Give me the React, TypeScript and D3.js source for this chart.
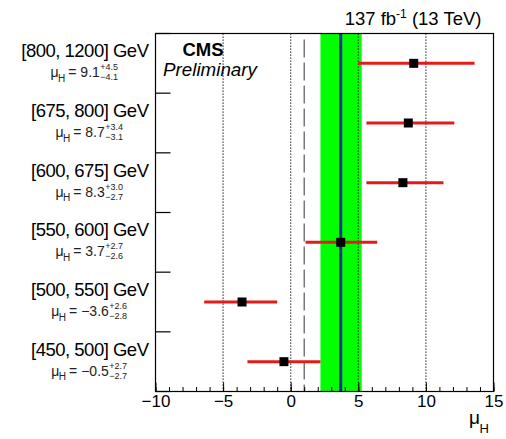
import React, { useEffect, useRef } from "react";
import * as d3 from "d3";

const categories = ["[800, 1200] GeV", "[675, 800] GeV", "[600, 675] GeV", "[550, 600] GeV", "[500, 550] GeV", "[450, 500] GeV"];
const muValues = [9.1, 8.7, 8.3, 3.7, -3.6, -0.5];
const errUp = [4.5, 3.4, 3.0, 2.7, 2.6, 2.7];
const errDown = [4.1, 3.1, 2.7, 2.6, 2.8, 2.7];
const combinedMu = 3.7;
const combinedUp = 1.55;
const combinedDown = 1.5;
const refLine = 1;
const gridLines = [-5, 0, 5, 10];
const majorTicks = [-10, -5, 0, 5, 10, 15];
const minorTicks = d3.range(-10, 16, 1);

const W = 506, H = 439;
const L = 155.5, R = 493.5, T = 33.5, B = 391.5;
const FONT = "'Liberation Sans', Arial, Helvetica, sans-serif";

const fmt = (v: number) => (v < 0 ? "\u2212" : "") + Math.abs(v).toFixed(1);

export default function App() {
  const ref = useRef<SVGSVGElement>(null);
  useEffect(() => {
    const svg = d3.select(ref.current!);
    svg.selectAll("*").remove();
    svg.attr("font-family", FONT);
    const x = d3.scaleLinear().domain([-10, 15]).range([L, R]);
    const y = d3.scaleBand<string>().domain(categories).range([T, B]).padding(0);
    const cy = (c: string) => (y(c) as number) + y.bandwidth() / 2;

    // green band
    svg.append("rect")
      .attr("x", x(combinedMu - combinedDown)).attr("y", T)
      .attr("width", x(combinedMu + combinedUp) - x(combinedMu - combinedDown))
      .attr("height", B - T).attr("fill", "#00ff00");
    // blue line
    svg.append("line")
      .attr("x1", x(combinedMu)).attr("x2", x(combinedMu)).attr("y1", T).attr("y2", B)
      .attr("stroke", "#1c2a9c").attr("stroke-width", 3);
    // dotted grid
    svg.append("g").selectAll("line").data(gridLines).join("line")
      .attr("x1", (d) => x(d)).attr("x2", (d) => x(d)).attr("y1", T).attr("y2", B)
      .attr("stroke", "#222").attr("stroke-width", 1.2).attr("stroke-dasharray", "1.2,1.8");
    // dashed reference
    svg.append("line")
      .attr("x1", x(refLine)).attr("x2", x(refLine)).attr("y1", T + 6).attr("y2", B)
      .attr("stroke", "#666").attr("stroke-width", 1.3).attr("stroke-dasharray", "18,5");

    // error bars
    const rows = categories.map((c, i) => ({ c, v: muValues[i], up: errUp[i], dn: errDown[i] }));
    svg.append("g").selectAll("line").data(rows).join("line")
      .attr("x1", (d) => x(d.v - d.dn)).attr("x2", (d) => x(d.v + d.up))
      .attr("y1", (d) => cy(d.c)).attr("y2", (d) => cy(d.c))
      .attr("stroke", "#e31b1b").attr("stroke-width", 3);
    svg.append("g").selectAll("rect").data(rows).join("rect")
      .attr("x", (d) => x(d.v) - 4.5).attr("y", (d) => cy(d.c) - 4.5)
      .attr("width", 9).attr("height", 9).attr("fill", "#000");

    // frame
    svg.append("rect").attr("x", L).attr("y", T).attr("width", R - L).attr("height", B - T)
      .attr("fill", "none").attr("stroke", "#000").attr("stroke-width", 1.2);

    // left ticks
    const bounds = d3.range(categories.length + 1).map((i) => T + i * y.step());
    svg.append("g").selectAll("line").data(bounds).join("line")
      .attr("x1", L).attr("x2", L + 15).attr("y1", (d) => d).attr("y2", (d) => d)
      .attr("stroke", "#000").attr("stroke-width", 1.2);

    // x axis ticks
    const minorAxis = d3.axisBottom(x).tickValues(minorTicks).tickSize(-4.5).tickFormat(() => "");
    const gMin = svg.append("g").attr("transform", `translate(0,${B})`).call(minorAxis);
    gMin.select(".domain").remove();
    gMin.selectAll("line").attr("stroke-width", 1);
    const majorAxis = d3.axisBottom(x).tickValues(majorTicks).tickSize(-9).tickPadding(3.6)
      .tickFormat((d) => fmt(d as number).replace(".0", ""));
    const gMaj = svg.append("g").attr("transform", `translate(0,${B})`).call(majorAxis);
    gMaj.select(".domain").remove();
    gMaj.selectAll("line").attr("stroke-width", 1);
    gMaj.selectAll("text").attr("font-size", 17).attr("font-family", FONT).attr("fill", "#000");

    // axis title
    const at = svg.append("text").attr("x", 469).attr("y", 424).attr("font-size", 19).attr("fill", "#000");
    at.append("tspan").text("\u03bc");
    at.append("tspan").attr("font-size", 13).attr("dy", 9).attr("dx", -0.5).text("H");

    // row labels
    rows.forEach((d) => {
      const c = cy(d.c);
      const lab = svg.append("text").attr("x", 148.5).attr("y", c - 6)
        .attr("text-anchor", "end").attr("font-size", 18.5).attr("letter-spacing", -0.5)
        .attr("fill", "#000").text(d.c);
      const lw = (lab.node() as SVGTextElement).getBBox().width;
      const center = 148.5 - lw / 2;
      const g = svg.append("g");
      const base = c + 14;
      const t1 = g.append("text").attr("x", 0).attr("y", base).attr("font-size", 14).attr("fill", "#222").text("\u03bc");
      const w1 = (t1.node() as SVGTextElement).getComputedTextLength();
      const t2 = g.append("text").attr("x", w1 - 0.5).attr("y", base + 4.5).attr("font-size", 10).attr("fill", "#222").text("H");
      const w2 = (t2.node() as SVGTextElement).getComputedTextLength();
      const x3 = w1 - 0.5 + w2 + 3;
      const t3 = g.append("text").attr("x", x3).attr("y", base).attr("font-size", 14).attr("fill", "#222").text("= " + fmt(d.v));
      const w3 = (t3.node() as SVGTextElement).getComputedTextLength();
      const xs = x3 + w3 + 0.5;
      const sp = g.append("text").attr("x", xs).attr("y", base - 7).attr("font-size", 9).attr("fill", "#222").text("+" + d.up.toFixed(1));
      const sb = g.append("text").attr("x", xs).attr("y", base + 3).attr("font-size", 9).attr("fill", "#222").text("\u2212" + d.dn.toFixed(1));
      const ws = Math.max((sp.node() as SVGTextElement).getComputedTextLength(), (sb.node() as SVGTextElement).getComputedTextLength());
      const total = xs + ws;
      g.attr("transform", `translate(${center - total / 2},0)`);
    });

    // CMS Preliminary
    svg.append("text").attr("x", 182.5).attr("y", 56).attr("font-size", 18.5).attr("font-weight", "bold").attr("fill", "#000").text("CMS");
    svg.append("text").attr("x", 163).attr("y", 76).attr("font-size", 18.8).attr("font-style", "italic").attr("fill", "#000").text("Preliminary");

    // lumi label
    const lt = svg.append("text").attr("x", 481.5).attr("y", 25).attr("text-anchor", "end").attr("font-size", 18.5).attr("fill", "#000");
    lt.append("tspan").text("137 fb");
    lt.append("tspan").attr("font-size", 12).attr("dy", -7).text("-1");
    lt.append("tspan").attr("dy", 7).text(" (13 TeV)");
  }, []);
  return (
    <svg ref={ref} width={W} height={H} style={{ position: "absolute", left: 0, top: 0, background: "#fff" }} />
  );
}
